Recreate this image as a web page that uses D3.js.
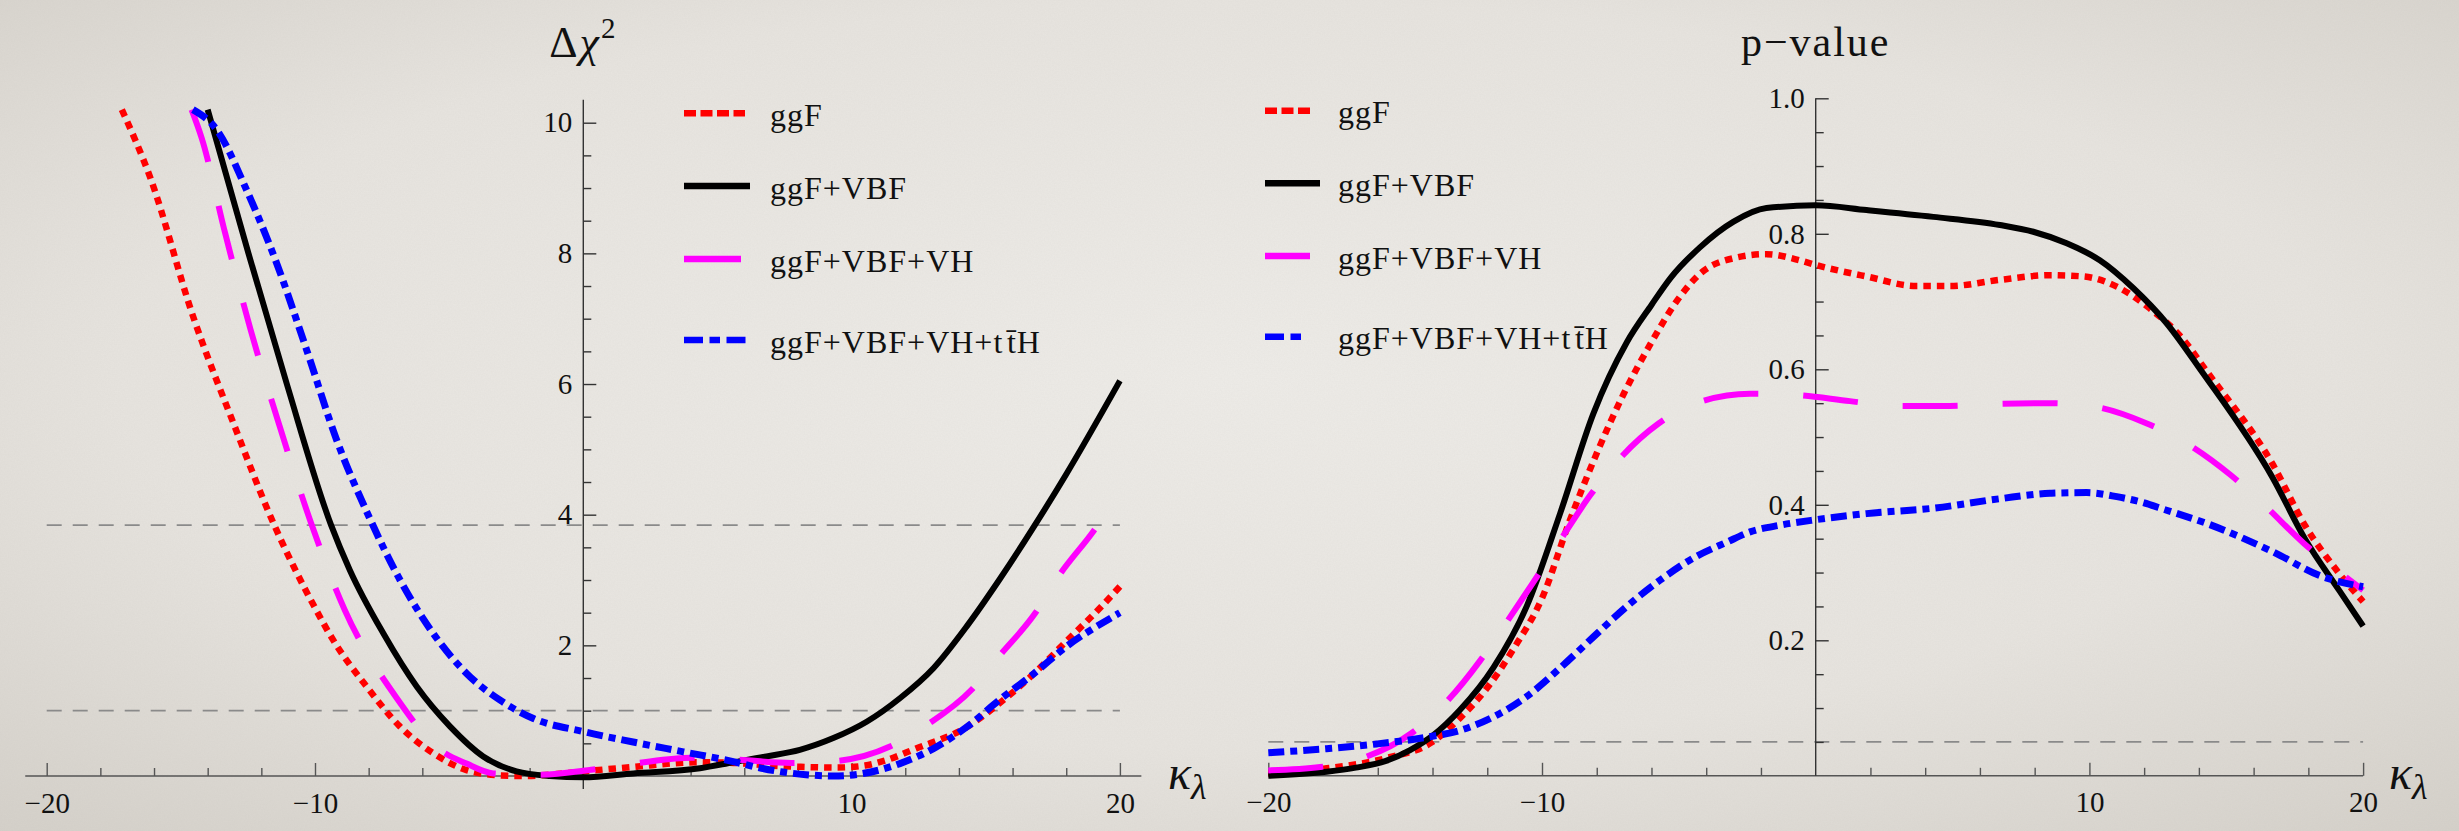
<!DOCTYPE html>
<meta charset="utf-8">
<body style="margin:0">
<script src="https://cdn.jsdelivr.net/npm/d3@7"></script>
<script>
// left panel: delta chi^2 vs kappa_lambda
var kChiGgF = [-17.2,-16.15,-14.54,-13.04,-11.55,-10.06,-9.32,-8.08,-6.84,-5.6,-4.35,-3.1,-2.2,-1.0,0,1.9,4.3,5.6,7.0,8.1,9.5,10.5,11.2,12.4,14.3,15.5,16.8,18.0,19.3,20];
var chiGgF  = [10.2,9.17,7.03,5.40,3.87,2.62,2.08,1.37,0.76,0.35,0.09,0.01,0.0,0.03,0.07,0.14,0.21,0.2,0.16,0.14,0.13,0.16,0.23,0.42,0.75,1.11,1.57,2.06,2.59,2.9];

var kChiVbf = [-14.0,-12.48,-11.05,-9.4,-8.7,-7.45,-6.21,-4.97,-3.73,-2.49,-1.24,0,1.87,4.35,5.59,6.83,8.07,9.32,10.56,11.8,13.05,14.29,15.5,16.8,18.0,20];
var chiVbf  = [10.2,8.0,6.0,3.84,3.15,2.18,1.37,0.76,0.30,0.07,0.0,-0.02,0.04,0.12,0.21,0.30,0.40,0.58,0.83,1.19,1.65,2.29,3.0,3.82,4.62,6.05];

var kChiVh = [-14.6,-14.22,-13.35,-12.4,-11.33,-10.17,-8.9,-6.95,-5.4,-4.35,-3.35,-1.6,0.37,2.05,4.04,5.71,7.76,9.44,11.43,12.8,14.47,15.47,16.84,17.7,19.0,20];
var chiVh  = [10.2,9.76,8.31,6.83,5.37,3.9,2.55,1.19,0.42,0.19,0.04,0.02,0.10,0.20,0.28,0.25,0.20,0.23,0.45,0.78,1.32,1.82,2.49,3.05,3.74,4.33];

var kChiTth = [-14.55,-13.66,-12.55,-11.43,-10.31,-9.19,-8.0,-6.83,-5.59,-4.35,-3.1,-1.86,0,1.86,3.73,5.59,6.5,7.45,8.3,9.32,10.3,11.8,13.05,14.29,15.5,16.8,18.0,19.75,20];
var chiTth  = [10.2,9.89,8.97,7.85,6.52,5.14,3.98,3.0,2.18,1.57,1.16,0.88,0.68,0.52,0.37,0.22,0.13,0.06,0.02,0.0,0.03,0.19,0.42,0.75,1.16,1.57,1.98,2.44,2.5];

// right panel: p-value vs kappa_lambda
var kPGgF = [-20,-17.87,-15.7,-14.0,-13.0,-12.0,-11.0,-10.0,-9.0,-8.0,-7.0,-6.0,-5.0,-4.2,-3.0,-1.8,-0.6,0,1.86,3.69,4.91,6.73,8.56,9.78,11.0,12.2,13.43,14.25,16.68,17.9,19.12,20];
var pGgF  = [0.003,0.011,0.026,0.05,0.085,0.13,0.19,0.262,0.375,0.476,0.565,0.64,0.705,0.742,0.764,0.770,0.761,0.754,0.737,0.723,0.723,0.732,0.739,0.737,0.722,0.69,0.644,0.599,0.461,0.368,0.299,0.257];

var kPVbf = [-20,-17.87,-16.8,-15.7,-14.82,-13.97,-13.0,-11.77,-10.56,-9.34,-8.12,-6.9,-6.0,-5.3,-4.23,-3.0,-1.8,0,1.86,4.3,6.73,7.95,9.17,10.38,11.6,12.82,14.1,16.68,17.9,19.12,20];
var pVbf  = [0.0,0.006,0.012,0.022,0.038,0.06,0.097,0.16,0.25,0.387,0.535,0.64,0.695,0.735,0.78,0.818,0.838,0.842,0.835,0.825,0.813,0.803,0.786,0.761,0.72,0.668,0.597,0.441,0.348,0.274,0.221];

var kPVh = [-20,-18.1,-16.5,-14.8,-13.54,-12.26,-11.34,-10.2,-9.34,-8.24,-7.21,-5.74,-4.3,-2.4,-0.7,1.25,2.9,4.9,6.55,8.5,10.15,12.1,13.5,15.16,16.38,17.84,19.12,20];
var pVh  = [0.008,0.013,0.027,0.062,0.107,0.17,0.224,0.293,0.347,0.414,0.466,0.52,0.551,0.564,0.562,0.553,0.546,0.546,0.549,0.55,0.545,0.52,0.492,0.444,0.40,0.343,0.301,0.274];

var kPTth = [-20,-17.87,-16.04,-14.21,-13.0,-11.77,-10.56,-9.34,-8.12,-6.9,-5.68,-4.4,-3.24,-2.4,-1.29,0,1.86,4.3,6.73,8.56,9.9,11.0,11.8,12.82,14.25,16.68,18.51,20];
var pTth  = [0.034,0.04,0.047,0.057,0.067,0.087,0.117,0.159,0.205,0.25,0.289,0.323,0.345,0.36,0.37,0.378,0.387,0.395,0.409,0.417,0.418,0.412,0.405,0.392,0.373,0.331,0.294,0.279];

var names = ["ggF", "ggF+VBF", "ggF+VBF+VH", "ggF+VBF+VH+t\u200At\u0304H"];
var xLabels = [-20, -10, 10, 20];
var chiLabels = [2, 4, 6, 8, 10];
var pLabels = [0.2, 0.4, 0.6, 0.8, 1.0];
var chiGuides = [1, 3.84];
var pGuides = [0.05];

var styles = [
  {color: "#ff0000", width: 6.5, dash: "7.5,6", leg: "12,4.5"},
  {color: "#000000", width: 6, dash: null, leg: null},
  {color: "#ff00ff", width: 6, dash: "55,45", leg: null},
  {color: "#0000ff", width: 7, dash: "16,6,7,6", leg: "19,6.5,10.5,6.5"}
];

var font = "'Liberation Serif', 'Times New Roman', serif";
var W = 2459, H = 831;

var svg = d3.select("body").append("svg").attr("width", W).attr("height", H);

var defs = svg.append("defs");
var grad = defs.append("radialGradient").attr("id", "bg").attr("cx", "50%").attr("cy", "45%").attr("r", "75%");
grad.append("stop").attr("offset", "0").attr("stop-color", "#eeece8");
grad.append("stop").attr("offset", "0.6").attr("stop-color", "#e7e4df");
grad.append("stop").attr("offset", "1").attr("stop-color", "#d4d0c9");
var noise = defs.append("filter").attr("id", "paper");
noise.append("feTurbulence").attr("type", "fractalNoise").attr("baseFrequency", 0.7).attr("numOctaves", 2).attr("seed", 3);
noise.append("feColorMatrix").attr("values", "0 0 0 0 0.45  0 0 0 0 0.43  0 0 0 0 0.40  0 0 0 0.10 0");

svg.append("rect").attr("width", W).attr("height", H).attr("fill", "url(#bg)");
svg.append("rect").attr("width", W).attr("height", H).attr("filter", "url(#paper)");

function zip(ks, vs) { return ks.map(function(k, i) { return [k, vs[i]]; }); }

function panel(cfg) {
  var x = cfg.x, y = cfg.y;
  var g = svg.append("g");

  // guide lines
  g.selectAll(".guide").data(cfg.guides).enter().append("line")
    .attr("x1", x(-20)).attr("x2", x(20))
    .attr("y1", function(d) { return y(d); }).attr("y2", function(d) { return y(d); })
    .attr("stroke", "#8a8a8a").attr("stroke-width", 1.8).attr("stroke-dasharray", "15,11");

  // axis lines
  g.append("line").attr("x1", x(cfg.xExt[0])).attr("x2", x(cfg.xExt[1]))
    .attr("y1", y(0)).attr("y2", y(0)).attr("stroke", "#555").attr("stroke-width", 1.6);
  g.append("line").attr("x1", x(0)).attr("x2", x(0))
    .attr("y1", y(cfg.yExt[0])).attr("y2", y(cfg.yExt[1])).attr("stroke", "#333").attr("stroke-width", 1.4);

  // ticks (inward, like the original)
  var minorX = d3.range(-20, 21, 2).filter(function(d) { return d % 10 !== 0; });
  var majorX = [-20, -10, 10, 20];
  [[minorX, 8], [majorX, 13]].forEach(function(t) {
    var a = g.append("g").attr("transform", "translate(0," + y(0) + ")")
      .call(d3.axisTop(x).tickValues(t[0]).tickSize(t[1]).tickFormat(""));
    a.select(".domain").remove();
    a.selectAll("line").attr("stroke", "#555").attr("stroke-width", 1.4);
  });
  [[cfg.yMinor, 8], [cfg.yMajor, 13]].forEach(function(t) {
    var a = g.append("g").attr("transform", "translate(" + x(0) + ",0)")
      .call(d3.axisRight(y).tickValues(t[0]).tickSize(t[1]).tickFormat(""));
    a.select(".domain").remove();
    a.selectAll("line").attr("stroke", "#333").attr("stroke-width", 1.4);
  });

  // tick labels
  var xl = g.append("g").attr("transform", "translate(0," + y(0) + ")")
    .call(d3.axisBottom(x).tickValues(xLabels).tickSize(0).tickPadding(16).tickFormat(d3.format("d")));
  xl.select(".domain").remove();
  xl.attr("font-family", font).attr("font-size", 29);
  xl.selectAll("text").attr("fill", "#111");

  var yl = g.append("g").attr("transform", "translate(" + x(0) + ",0)")
    .call(d3.axisLeft(y).tickValues(cfg.yLabels).tickSize(0).tickPadding(11).tickFormat(cfg.yFormat));
  yl.select(".domain").remove();
  yl.attr("font-family", font).attr("font-size", 29);
  yl.selectAll("text").attr("fill", "#111");

  // curves
  var line = d3.line().x(function(d) { return x(d[0]); }).y(function(d) { return y(d[1]); })
    .curve(d3.curveMonotoneX);
  cfg.series.forEach(function(s, i) {
    g.append("path").attr("d", line(s))
      .attr("fill", "none").attr("stroke", styles[i].color).attr("stroke-width", styles[i].width)
      .attr("stroke-dasharray", styles[i].dash);
  });

  // legend
  names.forEach(function(n, i) {
    var ly = cfg.leg.y[i];
    g.append("line").attr("x1", cfg.leg.x0).attr("x2", cfg.leg.x0 + cfg.leg.len[i])
      .attr("y1", ly).attr("y2", ly)
      .attr("stroke", styles[i].color).attr("stroke-width", 6.5)
      .attr("stroke-dasharray", styles[i].leg);
    g.append("text").attr("x", cfg.leg.tx).attr("y", ly + 12.5)
      .attr("font-family", font).attr("font-size", 32).attr("letter-spacing", 1)
      .attr("fill", "#111").text(n);
  });

  // kappa_lambda
  var kt = g.append("text").attr("x", cfg.kx).attr("y", 789)
    .attr("font-family", font).attr("font-style", "italic").attr("fill", "#111");
  kt.append("tspan").attr("font-size", 48).text("\u03ba");
  kt.append("tspan").attr("font-size", 36).attr("dy", 10).text("\u03bb");

  return g;
}

var xL = d3.scaleLinear().domain([-20, 20]).range([46.7, 1119.9]);
var yL = d3.scaleLinear().domain([0, 10]).range([776, 122.7]);
var gl = panel({
  x: xL, y: yL, xExt: [-20.8, 20.8], yExt: [-0.2, 10.35],
  yMinor: d3.range(0.5, 10.3, 0.5).filter(function(d) { return d % 2 !== 0; }),
  yMajor: [2, 4, 6, 8, 10],
  yLabels: chiLabels, yFormat: d3.format("d"),
  guides: chiGuides,
  series: [zip(kChiGgF, chiGgF), zip(kChiVbf, chiVbf), zip(kChiVh, chiVh), zip(kChiTth, chiTth)],
  leg: {x0: 684, tx: 770, y: [113.3, 186, 259, 340], len: [61, 66, 57, 67]},
  kx: 1168
});
var t1 = gl.append("text").attr("x", xL(0)).attr("y", 57).attr("text-anchor", "middle")
  .attr("font-family", font).attr("font-size", 44).attr("letter-spacing", 2).attr("fill", "#111");
t1.append("tspan").text("\u0394");
t1.append("tspan").attr("font-style", "italic").text("\u03c7");
t1.append("tspan").attr("font-size", 29).attr("dy", -19).text("2");

var xR = d3.scaleLinear().domain([-20, 20]).range([1268.3, 2363.1]);
var yR = d3.scaleLinear().domain([0, 1]).range([775.8, 98.3]);
var gr = panel({
  x: xR, y: yR, xExt: [-20, 20], yExt: [0, 1],
  yMinor: d3.range(0.05, 1.0, 0.05).filter(function(d) { return Math.abs(d * 5 - Math.round(d * 5)) > 1e-6; }),
  yMajor: [0.2, 0.4, 0.6, 0.8, 1.0],
  yLabels: pLabels, yFormat: d3.format(".1f"),
  guides: pGuides,
  series: [zip(kPGgF, pGgF), zip(kPVbf, pVbf), zip(kPVh, pVh), zip(kPTth, pTth)],
  leg: {x0: 1265, tx: 1338, y: [110.7, 183.3, 256, 336.7], len: [48, 55, 45, 42]},
  kx: 2389
});
gr.append("text").attr("x", xR(0)).attr("y", 56).attr("text-anchor", "middle")
  .attr("font-family", font).attr("font-size", 42).attr("letter-spacing", 2).attr("fill", "#111").text("p\u2212value");
</script>
</body>
